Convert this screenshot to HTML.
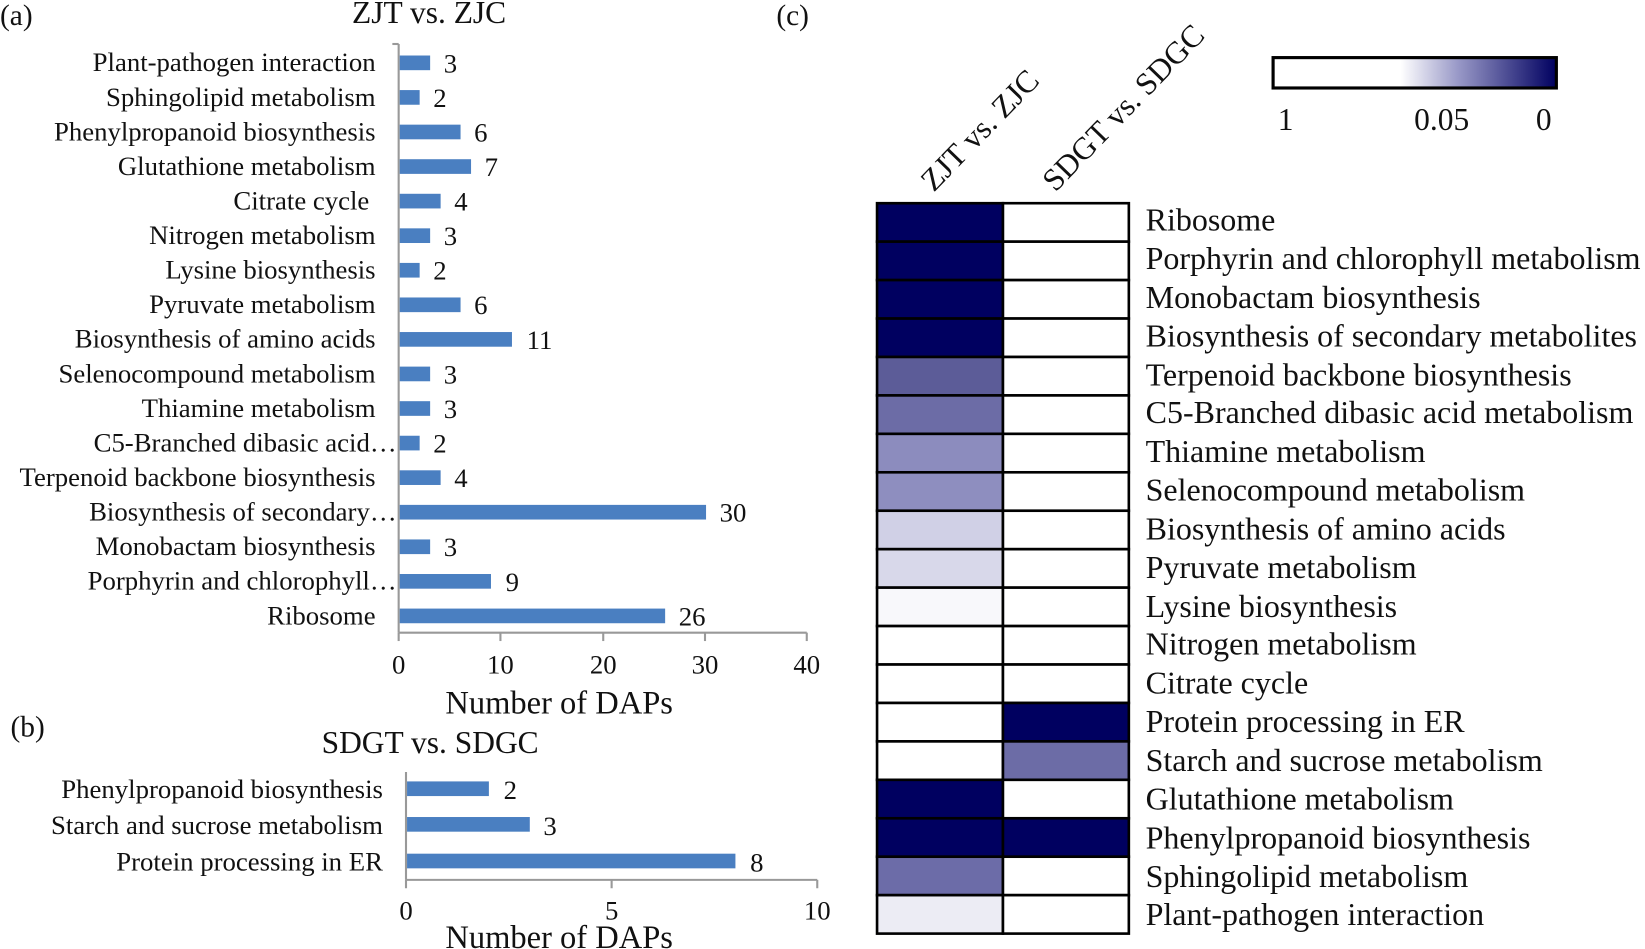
<!DOCTYPE html>
<html><head><meta charset="utf-8"><style>
html,body{margin:0;padding:0;background:#fff;}
svg{display:block;}
text{font-family:"Liberation Serif",serif;fill:#111;}
</style></head><body>
<svg width="1645" height="949" viewBox="0 0 1568 906" preserveAspectRatio="none" xmlns="http://www.w3.org/2000/svg">
<defs>
<linearGradient id="cb" x1="0" x2="1" y1="0" y2="0">
<stop offset="0" stop-color="#fff"/><stop offset="0.45" stop-color="#fff"/><stop offset="0.65" stop-color="#9a9ac8"/><stop offset="1" stop-color="#000060"/>
</linearGradient>
</defs>
<!-- (a) -->
<text x="0" y="24" font-size="28">(a)</text>
<text x="409" y="22" font-size="30" text-anchor="middle">ZJT vs. ZJC</text>
<g font-size="25.5">
<line x1="380" y1="42" x2="380" y2="604" stroke="#999" stroke-width="2"/>
<line x1="380" y1="604" x2="769" y2="604" stroke="#999" stroke-width="2"/>
<g stroke="#999" stroke-width="2">
<line x1="374" y1="42" x2="380" y2="42"/>
<line x1="380" y1="604" x2="380" y2="612"/><line x1="477" y1="604" x2="477" y2="612"/><line x1="575" y1="604" x2="575" y2="612"/><line x1="672" y1="604" x2="672" y2="612"/><line x1="769" y1="604" x2="769" y2="612"/>
</g>
<g fill="#4a7fc1">
<rect x="381" y="53" width="29" height="14"/>
<rect x="381" y="86" width="19" height="14"/>
<rect x="381" y="119" width="58" height="14"/>
<rect x="381" y="152" width="68" height="14"/>
<rect x="381" y="185" width="39" height="14"/>
<rect x="381" y="218" width="29" height="14"/>
<rect x="381" y="251" width="19" height="14"/>
<rect x="381" y="284" width="58" height="14"/>
<rect x="381" y="317" width="107" height="14"/>
<rect x="381" y="350" width="29" height="14"/>
<rect x="381" y="383" width="29" height="14"/>
<rect x="381" y="416" width="19" height="14"/>
<rect x="381" y="449" width="39" height="14"/>
<rect x="381" y="482" width="292" height="14"/>
<rect x="381" y="515" width="29" height="14"/>
<rect x="381" y="548" width="87" height="14"/>
<rect x="381" y="581" width="253" height="14"/>
</g>
<g text-anchor="end">
<text x="358" y="68">Plant-pathogen interaction</text>
<text x="358" y="101">Sphingolipid metabolism</text>
<text x="358" y="134">Phenylpropanoid biosynthesis</text>
<text x="358" y="167">Glutathione metabolism</text>
<text x="352" y="200">Citrate cycle</text>
<text x="358" y="233">Nitrogen metabolism</text>
<text x="358" y="266">Lysine biosynthesis</text>
<text x="358" y="299">Pyruvate metabolism</text>
<text x="358" y="332">Biosynthesis of amino acids</text>
<text x="358" y="365">Selenocompound metabolism</text>
<text x="358" y="398">Thiamine metabolism</text>
<text x="378" y="431">C5-Branched dibasic acid…</text>
<text x="358" y="464">Terpenoid backbone biosynthesis</text>
<text x="378" y="497">Biosynthesis of secondary…</text>
<text x="358" y="530">Monobactam biosynthesis</text>
<text x="378" y="563">Porphyrin and chlorophyll…</text>
<text x="358" y="596">Ribosome</text>
</g>
<text x="423" y="69">3</text><text x="413" y="102">2</text><text x="452" y="135">6</text><text x="462" y="168">7</text><text x="433" y="201">4</text><text x="423" y="234">3</text><text x="413" y="267">2</text><text x="452" y="300">6</text><text x="502" y="333">11</text><text x="423" y="366">3</text><text x="423" y="399">3</text><text x="413" y="432">2</text><text x="433" y="465">4</text><text x="686" y="498">30</text><text x="482" y="564">9</text><text x="423" y="531">3</text><text x="647" y="597">26</text>
<g text-anchor="middle">
<text x="380" y="643">0</text><text x="477" y="643">10</text><text x="575" y="643">20</text><text x="672" y="643">30</text><text x="769" y="643">40</text>
</g>
<text x="533" y="681" font-size="31" text-anchor="middle">Number of DAPs</text>
<!-- (b) -->
<text x="10" y="703" font-size="28">(b)</text>
<text x="410" y="719" font-size="30" text-anchor="middle">SDGT vs. SDGC</text>
<line x1="387" y1="737" x2="387" y2="840" stroke="#999" stroke-width="2"/>
<line x1="387" y1="840" x2="779" y2="840" stroke="#999" stroke-width="2"/>
<g stroke="#999" stroke-width="2"><line x1="583" y1="840" x2="583" y2="848"/><line x1="779" y1="840" x2="779" y2="848"/><line x1="387" y1="840" x2="387" y2="848"/></g>
<g fill="#4a7fc1">
<rect x="388" y="746" width="78" height="14"/>
<rect x="388" y="780" width="117" height="14"/>
<rect x="388" y="815" width="313" height="14"/>
</g>
<g text-anchor="end">
<text x="365" y="762">Phenylpropanoid biosynthesis</text>
<text x="365" y="796">Starch and sucrose metabolism</text>
<text x="365" y="831">Protein processing in ER</text>
</g>
<text x="480" y="763">2</text><text x="518" y="797">3</text><text x="715" y="832">8</text>
<g text-anchor="middle"><text x="387" y="878">0</text><text x="583" y="878">5</text><text x="779" y="878">10</text></g>
<text x="533" y="905" font-size="31" text-anchor="middle">Number of DAPs</text>
</g>
<!-- (c) -->
<text x="740" y="24" font-size="28">(c)</text>
<rect x="1213.5" y="55" width="270" height="29" fill="url(#cb)" stroke="#000" stroke-width="3"/>
<g font-size="30">
<text x="1218" y="124">1</text><text x="1348" y="124">0.05</text><text x="1464" y="124">0</text>
<text transform="translate(890,184) rotate(-46)">ZJT vs. ZJC</text>
<text transform="translate(1006,184) rotate(-46)">SDGT vs. SDGC</text>
</g>
<g stroke="#000" stroke-width="2.5">
<rect x="836" y="194.0" width="120" height="36.7" fill="#000060"/><rect x="956" y="194.0" width="120" height="36.7" fill="#fff"/>
<rect x="836" y="230.7" width="120" height="36.7" fill="#000060"/><rect x="956" y="230.7" width="120" height="36.7" fill="#fff"/>
<rect x="836" y="267.4" width="120" height="36.7" fill="#000060"/><rect x="956" y="267.4" width="120" height="36.7" fill="#fff"/>
<rect x="836" y="304.1" width="120" height="36.7" fill="#000060"/><rect x="956" y="304.1" width="120" height="36.7" fill="#fff"/>
<rect x="836" y="340.8" width="120" height="36.7" fill="#5c5c98"/><rect x="956" y="340.8" width="120" height="36.7" fill="#fff"/>
<rect x="836" y="377.5" width="120" height="36.7" fill="#6c6ca6"/><rect x="956" y="377.5" width="120" height="36.7" fill="#fff"/>
<rect x="836" y="414.2" width="120" height="36.7" fill="#8c8cbe"/><rect x="956" y="414.2" width="120" height="36.7" fill="#fff"/>
<rect x="836" y="450.9" width="120" height="36.7" fill="#8e8ebf"/><rect x="956" y="450.9" width="120" height="36.7" fill="#fff"/>
<rect x="836" y="487.6" width="120" height="36.7" fill="#d0d0e6"/><rect x="956" y="487.6" width="120" height="36.7" fill="#fff"/>
<rect x="836" y="524.3" width="120" height="36.7" fill="#d8d8ea"/><rect x="956" y="524.3" width="120" height="36.7" fill="#fff"/>
<rect x="836" y="561.0" width="120" height="36.7" fill="#f8f8fb"/><rect x="956" y="561.0" width="120" height="36.7" fill="#fff"/>
<rect x="836" y="597.7" width="120" height="36.7" fill="#fff"/><rect x="956" y="597.7" width="120" height="36.7" fill="#fff"/>
<rect x="836" y="634.4" width="120" height="36.7" fill="#fff"/><rect x="956" y="634.4" width="120" height="36.7" fill="#fff"/>
<rect x="836" y="671.1" width="120" height="36.7" fill="#fff"/><rect x="956" y="671.1" width="120" height="36.7" fill="#000060"/>
<rect x="836" y="707.8" width="120" height="36.7" fill="#fff"/><rect x="956" y="707.8" width="120" height="36.7" fill="#6c6ca6"/>
<rect x="836" y="744.5" width="120" height="36.7" fill="#000060"/><rect x="956" y="744.5" width="120" height="36.7" fill="#fff"/>
<rect x="836" y="781.2" width="120" height="36.7" fill="#000060"/><rect x="956" y="781.2" width="120" height="36.7" fill="#000060"/>
<rect x="836" y="817.9" width="120" height="36.7" fill="#6c6ca8"/><rect x="956" y="817.9" width="120" height="36.7" fill="#fff"/>
<rect x="836" y="854.6" width="120" height="36.7" fill="#ececf4"/><rect x="956" y="854.6" width="120" height="36.7" fill="#fff"/>
</g>
<g font-size="30.5">
<text x="1092" y="220">Ribosome</text>
<text x="1092" y="257">Porphyrin and chlorophyll metabolism</text>
<text x="1092" y="294">Monobactam biosynthesis</text>
<text x="1092" y="331">Biosynthesis of secondary metabolites</text>
<text x="1092" y="368">Terpenoid backbone biosynthesis</text>
<text x="1092" y="404">C5-Branched dibasic acid metabolism</text>
<text x="1092" y="441">Thiamine metabolism</text>
<text x="1092" y="478">Selenocompound metabolism</text>
<text x="1092" y="515">Biosynthesis of amino acids</text>
<text x="1092" y="552">Pyruvate metabolism</text>
<text x="1092" y="589">Lysine biosynthesis</text>
<text x="1092" y="625">Nitrogen metabolism</text>
<text x="1092" y="662">Citrate cycle</text>
<text x="1092" y="699">Protein processing in ER</text>
<text x="1092" y="736">Starch and sucrose metabolism</text>
<text x="1092" y="773">Glutathione metabolism</text>
<text x="1092" y="810">Phenylpropanoid biosynthesis</text>
<text x="1092" y="847">Sphingolipid metabolism</text>
<text x="1092" y="883">Plant-pathogen interaction</text>
</g>
</svg>
</body></html>
